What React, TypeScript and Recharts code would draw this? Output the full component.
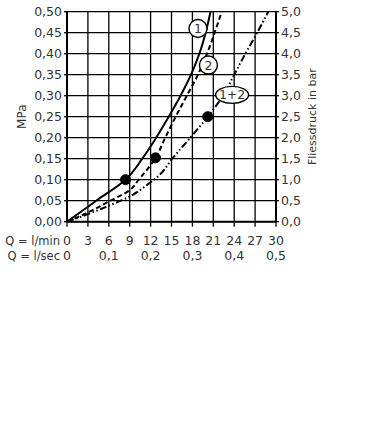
import React from 'react';
import {
  ComposedChart,
  Line,
  XAxis,
  YAxis,
  CartesianGrid,
  ReferenceDot,
} from 'recharts';

// Curve 1 (solid)
const curve1Q = [0, 4.2, 8.4, 10.8, 12.8, 14.6, 16.3, 17.8, 19.0, 19.9, 20.6];
const curve1P = [0, 0.05, 0.10, 0.15, 0.20, 0.25, 0.30, 0.35, 0.40, 0.45, 0.50];
// Curve 2 (dashed)
const curve2Q = [0, 3, 6, 9, 10.3, 12.7, 14.1, 15.6, 17.2, 18.8, 20.1, 21.2, 22.2];
const curve2P = [0, 0.022, 0.048, 0.075, 0.10, 0.152, 0.20, 0.25, 0.30, 0.35, 0.40, 0.45, 0.50];
// Curve 1+2 (dash-dot-dot)
const curve12Q = [0, 3, 6, 9, 11.7, 13.2, 15.1, 17.7, 20.2, 22.4, 24.0, 25.6, 27.3, 28.9];
const curve12P = [0, 0.018, 0.038, 0.06, 0.09, 0.11, 0.15, 0.20, 0.25, 0.30, 0.35, 0.40, 0.45, 0.50];

// Marked points
const markQ = [8.4, 12.7, 20.2];
const markP = [0.10, 0.152, 0.25];

// Curve tags
const tagText = ['1', '2', '1+2'];
const tagQ = [18.8, 20.3, 23.7];
const tagP = [0.46, 0.373, 0.302];

// Ticks
const minTicks = [0, 3, 6, 9, 12, 15, 18, 21, 24, 27, 30];
const secTicks = [0, 0.1, 0.2, 0.3, 0.4, 0.5];
const mpaTicks = [0, 0.05, 0.1, 0.15, 0.2, 0.25, 0.3, 0.35, 0.4, 0.45, 0.5];
const barTicks = [0, 0.5, 1, 1.5, 2, 2.5, 3, 3.5, 4, 4.5, 5];

const toPts = (qs: number[], ps: number[]) => qs.map((q, i) => ({ q, p: ps[i] }));
const data1 = toPts(curve1Q, curve1P);
const data2 = toPts(curve2Q, curve2P);
const data12 = toPts(curve12Q, curve12P);

const NUM_FONT = 'DejaVu Sans';
const TXT = '#333';

const tickStyle = { fontFamily: NUM_FONT, fontSize: 12.5, fill: TXT };

const comma = (v: number, d: number) => v.toFixed(d).replace('.', ',');

const TagShape = (props: any) => {
  const { cx, cy, text } = props;
  const wide = text.length > 1;
  return (
    <g>
      <ellipse cx={cx} cy={cy} rx={wide ? 16.5 : 9} ry={wide ? 8.5 : 9} fill="#fff" stroke="#000" strokeWidth={1.4} />
      <text x={cx} y={cy} dy="0.36em" textAnchor="middle" fontFamily={NUM_FONT} fontSize={12.5} fill={TXT}>
        {text}
      </text>
    </g>
  );
};

const rowLabel = (text: string, dyBase: number) => (props: any) => {
  const vb = props.viewBox;
  return (
    <text x={vb.x - 7} y={vb.y + dyBase} textAnchor="end" fontFamily={NUM_FONT} fontSize={11.5} fill={TXT}>
      {text}
    </text>
  );
};

const leftTitle = (props: any) => {
  const vb = props.viewBox;
  const x = 22;
  const y = vb.y + vb.height / 2;
  return (
    <text x={x} y={y} transform={`rotate(-90 ${x} ${y})`} textAnchor="middle" dy="0.36em" fontFamily={NUM_FONT} fontSize={12} fill={TXT}>
      MPa
    </text>
  );
};

const rightTitle = (props: any) => {
  const vb = props.viewBox;
  const x = 312;
  const y = vb.y + vb.height / 2;
  return (
    <text x={x} y={y} transform={`rotate(-90 ${x} ${y})`} textAnchor="middle" dy="0.36em" fontFamily={NUM_FONT} fontSize={11} fill={TXT}>
      Fliessdruck in bar
    </text>
  );
};

export default function App() {
  return (
    <div style={{ position: 'absolute', left: 0, top: 0, width: 380, height: 439, background: '#fff' }}>
      <ComposedChart width={380} height={439} margin={{ top: 11.7, right: 0, bottom: 179.3, left: 0 }}>
        <CartesianGrid xAxisId="min" yAxisId="mpa" stroke="#000" strokeWidth={1.3} />
        <XAxis
          xAxisId="min"
          type="number"
          dataKey="q"
          domain={[0, 30]}
          ticks={minTicks}
          allowDataOverflow
          height={18}
          tickSize={5}
          tickMargin={9}
          axisLine={{ stroke: '#000', strokeWidth: 2 }}
          tickLine={{ stroke: '#000', strokeWidth: 1.3 }}
          tick={tickStyle}
          interval={0}
          label={{ content: rowLabel('Q = l/min', 22.8) }}
        />
        <XAxis
          xAxisId="sec"
          type="number"
          dataKey="q"
          domain={[0, 30]}
          ticks={secTicks.map((s) => s * 60)}
          allowDataOverflow
          height={20}
          tickSize={0}
          tickMargin={11}
          axisLine={false}
          tickLine={false}
          tick={tickStyle}
          interval={0}
          tickFormatter={(v: number) => (v === 0 ? '0' : comma(v / 60, 1))}
          label={{ content: rowLabel('Q = l/sec', 19.8) }}
        />
        <YAxis
          yAxisId="mpa"
          type="number"
          domain={[0, 0.5]}
          ticks={mpaTicks}
          allowDataOverflow
          width={67}
          tickSize={3}
          tickMargin={2}
          axisLine={{ stroke: '#000', strokeWidth: 2 }}
          tickLine={{ stroke: '#000', strokeWidth: 1.3 }}
          tick={tickStyle}
          interval={0}
          tickFormatter={(v: number) => comma(v, 2)}
          label={{ content: leftTitle }}
        />
        <YAxis
          yAxisId="bar"
          orientation="right"
          type="number"
          domain={[0, 5]}
          ticks={barTicks}
          allowDataOverflow
          width={104}
          tickSize={3}
          tickMargin={2}
          axisLine={{ stroke: '#000', strokeWidth: 2 }}
          tickLine={{ stroke: '#000', strokeWidth: 1.3 }}
          tick={{ ...tickStyle, textAnchor: 'start' }}
          interval={0}
          tickFormatter={(v: number) => comma(v, 1)}
          label={{ content: rightTitle }}
        />
        <Line
          xAxisId="min"
          yAxisId="mpa"
          data={data12}
          dataKey="p"
          type="monotoneY"
          stroke="#000"
          strokeWidth={2}
          strokeDasharray="7 2.5 1.5 2.5 1.5 2.5"
          dot={false}
          isAnimationActive={false}
        />
        <Line
          xAxisId="min"
          yAxisId="mpa"
          data={data2}
          dataKey="p"
          type="monotoneY"
          stroke="#000"
          strokeWidth={2}
          strokeDasharray="5 3"
          dot={false}
          isAnimationActive={false}
        />
        <Line
          xAxisId="min"
          yAxisId="mpa"
          data={data1}
          dataKey="p"
          type="monotoneY"
          stroke="#000"
          strokeWidth={2}
          dot={false}
          isAnimationActive={false}
        />
        {markQ.map((q, i) => (
          <ReferenceDot key={'m' + i} xAxisId="min" yAxisId="mpa" x={q} y={markP[i]} r={5} fill="#000" stroke="#000" />
        ))}
        {tagText.map((t, i) => (
          <ReferenceDot
            key={'t' + i}
            xAxisId="min"
            yAxisId="mpa"
            x={tagQ[i]}
            y={tagP[i]}
            r={9}
            shape={(p: any) => <TagShape {...p} text={t} />}
          />
        ))}
      </ComposedChart>
    </div>
  );
}
